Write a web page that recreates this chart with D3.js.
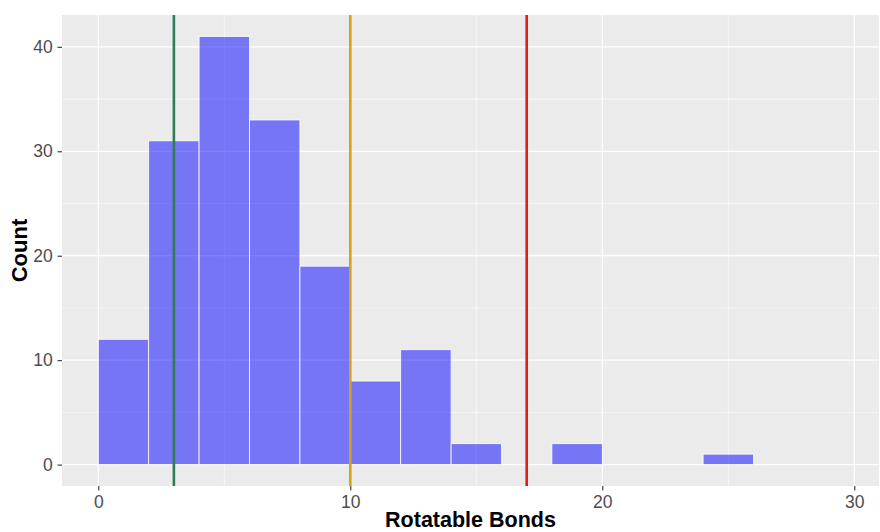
<!DOCTYPE html>
<html><head><meta charset="utf-8">
<script src="https://cdn.jsdelivr.net/npm/d3@7"></script>
<style>body{margin:0;background:#fff}svg{display:block}</style>
</head><body>
<svg id="c" width="880" height="532"></svg>
<script>
const binStarts = [0,2,4,6,8,10,12,14,16,18,20,22,24];
const counts    = [12,31,41,33,19,8,11,2,0,2,0,0,1];
const binWidth = 2;
const vlines = [3,10,17];
const vlineColors = ["#2e7d55","#d1a316","#e01b1b"];
const xTicks = [0,10,20,30];
const yTicks = [0,10,20,30,40];
const xLabel = "Rotatable Bonds", yLabel = "Count";

const svg = d3.select("#c");
const L=62,R=879,T=15,B=486;
const x = d3.scaleLinear().domain([-1.44,30.98]).range([L,R]);
const y = d3.scaleLinear().domain([-2.05,43.05]).range([B,T]);
const FONT = "Liberation Sans, Arial, sans-serif";

svg.append("rect").attr("x",L).attr("y",T).attr("width",R-L).attr("height",B-T).attr("fill","#ebebeb");
const g = svg.append("g");
const xMinor=[5,15,25], yMinor=[5,15,25,35];
xMinor.forEach(v=>g.append("line").attr("x1",x(v)).attr("x2",x(v)).attr("y1",T).attr("y2",B).attr("stroke","#fff").attr("stroke-width",0.6));
yMinor.forEach(v=>g.append("line").attr("y1",y(v)).attr("y2",y(v)).attr("x1",L).attr("x2",R).attr("stroke","#fff").attr("stroke-width",0.6));
xTicks.forEach(v=>g.append("line").attr("x1",x(v)).attr("x2",x(v)).attr("y1",T).attr("y2",B).attr("stroke","#fff").attr("stroke-width",1.2));
yTicks.forEach(v=>g.append("line").attr("y1",y(v)).attr("y2",y(v)).attr("x1",L).attr("x2",R).attr("stroke","#fff").attr("stroke-width",1.2));

svg.append("g").selectAll("rect").data(binStarts.map((s,i)=>({s,c:counts[i]})).filter(d=>d.c>0))
  .join("rect")
  .attr("x",d=>x(d.s)).attr("width",d=>x(d.s+binWidth)-x(d.s))
  .attr("y",d=>y(d.c)).attr("height",d=>y(0)-y(d.c))
  .attr("fill","blue").attr("fill-opacity",0.5)
  .attr("stroke","#fff").attr("stroke-width",0.8);

svg.append("g").selectAll("line").data(vlines).join("line")
  .attr("x1",d=>x(d)).attr("x2",d=>x(d)).attr("y1",T).attr("y2",B)
  .attr("stroke",(d,i)=>vlineColors[i]).attr("stroke-width",2.6);

const xa = svg.append("g").attr("transform",`translate(0,${B})`)
  .call(d3.axisBottom(x).tickValues(xTicks).tickSize(4.5).tickPadding(5).tickFormat(d3.format("d")));
const ya = svg.append("g").attr("transform",`translate(${L},0)`)
  .call(d3.axisLeft(y).tickValues(yTicks).tickSize(4.5).tickPadding(4.8).tickFormat(d3.format("d")));
[xa,ya].forEach(a=>{
  a.select(".domain").remove();
  a.selectAll(".tick line").attr("stroke","#333").attr("stroke-width",1.1);
  a.selectAll(".tick text").attr("fill","#4d4d4d").attr("font-family",FONT).attr("font-size",17.5);
});
xa.attr("font-size",17.5).attr("font-family",FONT);
ya.attr("font-size",17.5).attr("font-family",FONT);

svg.append("text").attr("x",(L+R)/2).attr("y",527).attr("text-anchor","middle")
  .attr("font-family",FONT).attr("font-size",21.5).attr("font-weight","bold").text(xLabel);
svg.append("text").attr("transform",`translate(27,${(T+B)/2}) rotate(-90)`).attr("text-anchor","middle")
  .attr("font-family",FONT).attr("font-size",22).attr("font-weight","bold").text(yLabel);
</script>
</body></html>
